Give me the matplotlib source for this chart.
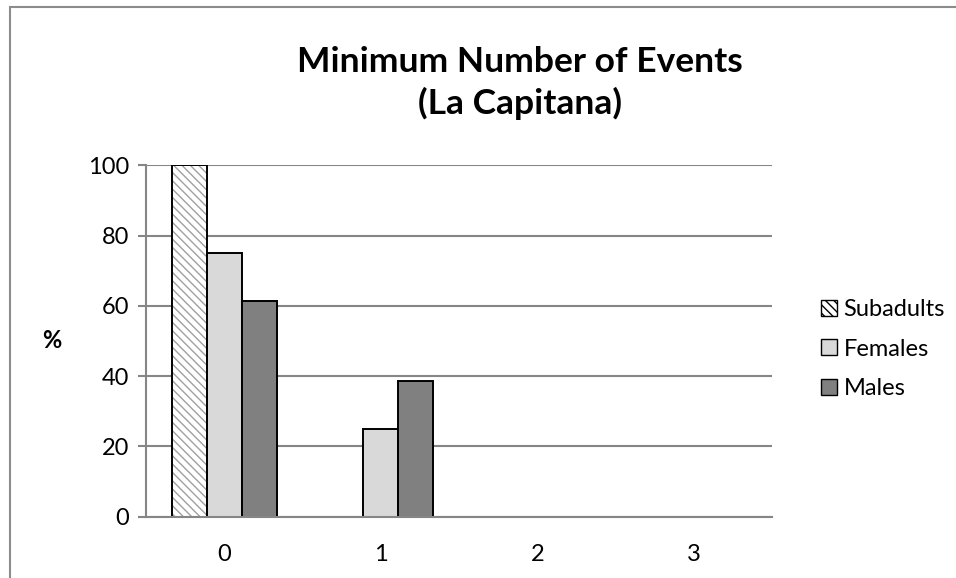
import matplotlib.pyplot as plt
import numpy as np
from matplotlib.patches import Rectangle, Patch

plt.rcParams['font.family'] = ['Lato', 'DejaVu Sans']

# data
categories = ['0', '1', '2', '3']
subadults = [100, 0, 0, 0]
females = [75, 25, 0, 0]
males = [61.5, 38.5, 0, 0]

fig = plt.figure(figsize=(9.56, 5.78), dpi=100)
ax = fig.add_axes([146/956, 1-516.7/578, 626/956, (516.7-165.3)/578])

# chart frame (cut off on the right and bottom)
fig.patches.append(Rectangle((10/956, -0.1), 1.2, 1-7/578+0.1, transform=fig.transFigure,
                             fill=False, edgecolor='#8c8c8c', linewidth=1.5, zorder=0))

x = np.arange(len(categories))
w = 35/156.5

def lw(vals):
    # zero-height bars are not drawn in the original
    return [1.4 if v > 0 else 0 for v in vals]

ax.bar(x - w, subadults, w, color='white', edgecolor='#a0a0a0', hatch='\\\\\\\\', linewidth=0, zorder=3)
ax.bar(x - w, subadults, w, fill=False, edgecolor='black', linewidth=lw(subadults), zorder=4)
ax.bar(x, females, w, color='#d9d9d9', edgecolor='black', linewidth=lw(females), zorder=3)
ax.bar(x + w, males, w, color='#808080', edgecolor='black', linewidth=lw(males), zorder=3)

ax.set_xlim(-0.5, 3.5)
ax.set_ylim(0, 100)
ax.set_yticks(range(0, 101, 20))
ax.set_xticks(x)
ax.set_xticklabels(categories)
ax.grid(axis='y', color='#868686', linewidth=1.5, zorder=0)
for s in ['top', 'right']:
    ax.spines[s].set_visible(False)
for s in ['left', 'bottom']:
    ax.spines[s].set_color('#868686')
    ax.spines[s].set_linewidth(1.5)
ax.spines['bottom'].set_zorder(5)
ax.tick_params(axis='y', length=6, width=1.5, color='#868686', labelsize=17, pad=6)
ax.tick_params(axis='x', length=0, labelsize=17, pad=20)

ax.set_ylabel('%', rotation=0, fontsize=17, fontweight='bold', labelpad=26, va='center')

fig.text(520/956, 1-83/578, 'Minimum Number of Events\n(La Capitana)', ha='center', va='center',
         fontsize=25.5, fontweight='bold', linespacing=1.3)

# legend
handles = [Patch(facecolor='white', edgecolor='black', hatch='\\\\\\\\', label='Subadults'),
           Patch(facecolor='#d9d9d9', edgecolor='black', label='Females'),
           Patch(facecolor='#808080', edgecolor='black', label='Males')]
fig.legend(handles=handles, loc='center left', bbox_to_anchor=(800/956, 1-349/578),
           frameon=False, fontsize=17, handlelength=0.65, handleheight=0.65,
           handletextpad=0.3, labelspacing=0.78)

fig.savefig('out.png', dpi=100)
